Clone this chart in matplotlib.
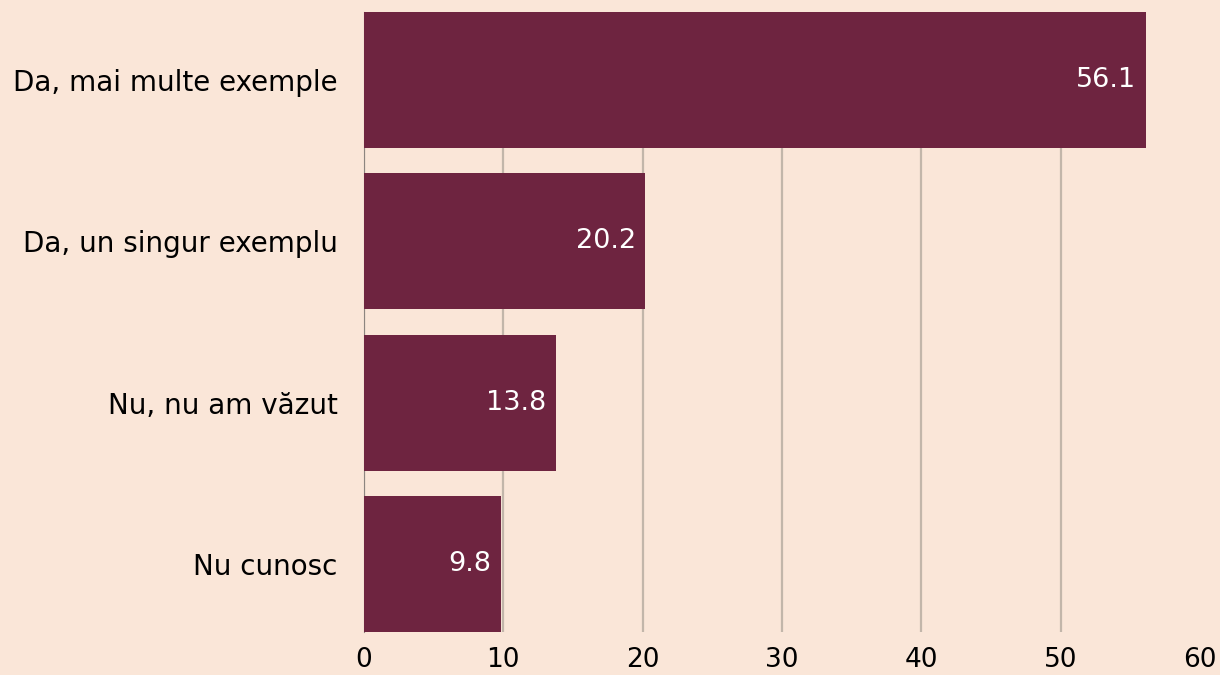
import matplotlib
matplotlib.use("Agg")
import matplotlib.pyplot as plt

categories = ["Da, mai multe exemple", "Da, un singur exemplu", "Nu, nu am văzut", "Nu cunosc"]
values = [56.1, 20.2, 13.8, 9.8]
xticks = [0, 10, 20, 30, 40, 50, 60]

BG = "#FAE6D8"
BAR = "#6E2440"
GRID = "#C2B6AA"

plt.rcParams["font.family"] = ["DejaVu Sans"]

fig = plt.figure(figsize=(12.2, 6.75), dpi=100, facecolor=BG)
ax = fig.add_axes([364 / 1220, 1 - 632 / 675, 836 / 1220, 620 / 675])
ax.set_facecolor(BG)

h = 0.843
pos = list(range(len(categories)))
ax.barh(pos, values, height=h, color=BAR, zorder=3)
for p, v in zip(pos, values):
    ax.text(v - 0.7, p, f"{v:.1f}", color="white", ha="right", va="center",
            fontsize=19.5, zorder=4)

ax.set_xlim(0, 60)
ax.set_ylim(3 + h / 2, -h / 2)
ax.set_yticks(pos)
ax.set_yticklabels(categories, fontsize=20)
ax.set_xticks(xticks)
ax.set_xticklabels([str(t) for t in xticks], fontsize=19)
ax.tick_params(axis="y", length=0, pad=19)
ax.tick_params(axis="x", length=0, pad=11)
ax.xaxis.grid(True, color=GRID, linewidth=1.6, zorder=0)
ax.set_axisbelow(True)
# no gridline on the outer edge
ax.get_xgridlines()[-1].set_visible(False)
for s in ["top", "right", "bottom"]:
    ax.spines[s].set_visible(False)
ax.spines["left"].set_color("#8C8580")
ax.spines["left"].set_linewidth(0.8)

fig.savefig("out.png", dpi=100, facecolor=BG)
